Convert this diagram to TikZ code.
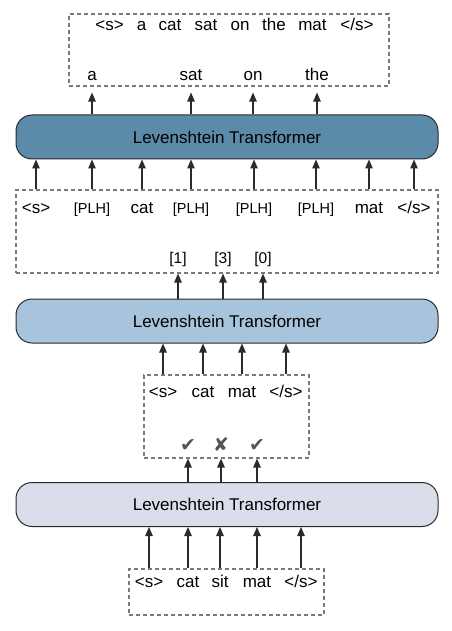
\documentclass[tikz,border=0pt]{standalone}
\usepackage{fontspec}
\setmainfont{Liberation Sans}
\newfontfamily\symfont{DejaVu Sans}
\usetikzlibrary{arrows.meta}
\definecolor{ltdark}{HTML}{5B8BA9}
\definecolor{ltmid}{HTML}{A8C4DC}
\definecolor{ltlight}{HTML}{DADDEA}
\definecolor{dashgray}{HTML}{7A7A7A}
\definecolor{markgray}{HTML}{555555}
\definecolor{edgegray}{HTML}{2A2A2A}
\tikzset{
  ltbox/.style={draw=edgegray, line width=1pt, rounded corners=16pt, minimum width=422pt, minimum height=44pt, inner sep=0pt, font=\fontsize{17}{20}\selectfont},
  dbox/.style={draw=dashgray, line width=1.1pt, dash pattern=on 4pt off 3pt, inner sep=0pt},
  tok/.style={inner sep=0pt, anchor=base, font=\fontsize{17}{20}\selectfont},
  plh/.style={inner sep=0pt, anchor=base, font=\fontsize{14.5}{17}\selectfont},
  num/.style={inner sep=0pt, anchor=base, font=\fontsize{15.5}{18}\selectfont},
  mk/.style={inner sep=0pt, anchor=base, text=markgray, font=\symfont\fontsize{19}{22}\selectfont},
  arr/.style={draw=edgegray, line width=1.2pt, -{Triangle[length=9pt,width=7.5pt]}}
}
\begin{document}
\begin{tikzpicture}[x=1pt,y=-1pt]
\useasboundingbox (0,0) rectangle (451,631);
% boxes
\node[dbox, minimum width=320pt, minimum height=72pt] (box1) at (229,50) {};
\node[ltbox, fill=ltdark] (lt1) at (227,137) {Levenshtein Transformer};
\node[dbox, minimum width=422pt, minimum height=83pt] (box2) at (227,231.5) {};
\node[ltbox, fill=ltmid] (lt2) at (227,321) {Levenshtein Transformer};
\node[dbox, minimum width=165pt, minimum height=83pt] (box3) at (226.5,416.5) {};
\node[ltbox, fill=ltlight] (lt3) at (227,504.5) {Levenshtein Transformer};
\node[dbox, minimum width=195pt, minimum height=46pt] (box4) at (226.5,592) {};
% top output
\node[tok] (o1) at (109.5,31) {<s>};
\node[tok] (o2) at (141.5,31) {a};
\node[tok] (o3) at (170,31) {cat};
\node[tok] (o4) at (206,31) {sat};
\node[tok] (o5) at (240,31) {on};
\node[tok] (o6) at (274,31) {the};
\node[tok] (o7) at (312.5,31) {mat};
\node[tok] (o8) at (357,31) {</s>};
\node[tok] (w1) at (92,81) {a};
\node[tok] (w2) at (191,81) {sat};
\node[tok] (w3) at (253,81) {on};
\node[tok] (w4) at (317,81) {the};
% box2
\node[tok] (p1) at (36,213) {<s>};
\node[plh] (p2) at (92,213) {[PLH]};
\node[tok] (p3) at (142,213) {cat};
\node[plh] (p4) at (191,213) {[PLH]};
\node[plh] (p5) at (254,213) {[PLH]};
\node[plh] (p6) at (316,213) {[PLH]};
\node[tok] (p7) at (369,213) {mat};
\node[tok] (p8) at (414,213) {</s>};
\node[num] (n1) at (178,263) {[1]};
\node[num] (n2) at (223,263) {[3]};
\node[num] (n3) at (263,263) {[0]};
% box3
\node[tok] (c1) at (163,397) {<s>};
\node[tok] (c2) at (203,397) {cat};
\node[tok] (c3) at (242,397) {mat};
\node[tok] (c4) at (286,397) {</s>};
\node[mk] (m1) at (188,451) {✔};
\node[mk] (m2) at (221,451) {✘};
\node[mk] (m3) at (257,451) {✔};
% box4
\node[tok] (b1) at (149,587) {<s>};
\node[tok] (b2) at (188,587) {cat};
\node[tok] (b3) at (220,587) {sit};
\node[tok] (b4) at (257,587) {mat};
\node[tok] (b5) at (301,587) {</s>};
% arrows
\foreach \t in {b1,b2,b3,b4,b5} \draw[arr] (box4.north -| \t) -- (lt3.south -| \t);
\foreach \t in {m1,m2,m3} \draw[arr] (lt3.north -| \t) -- (box3.south -| \t);
\foreach \t in {c1,c2,c3,c4} \draw[arr] (box3.north -| \t) -- (lt2.south -| \t);
\foreach \t in {n1,n2,n3} \draw[arr] (lt2.north -| \t) -- (box2.south -| \t);
\foreach \t in {p1,p2,p3,p4,p5,p6,p7,p8} \draw[arr] (box2.north -| \t) -- (lt1.south -| \t);
\foreach \t in {w1,w2,w3,w4} \draw[arr, shorten >=6pt] (lt1.north -| \t) -- (box1.south -| \t);
\end{tikzpicture}
\end{document}
